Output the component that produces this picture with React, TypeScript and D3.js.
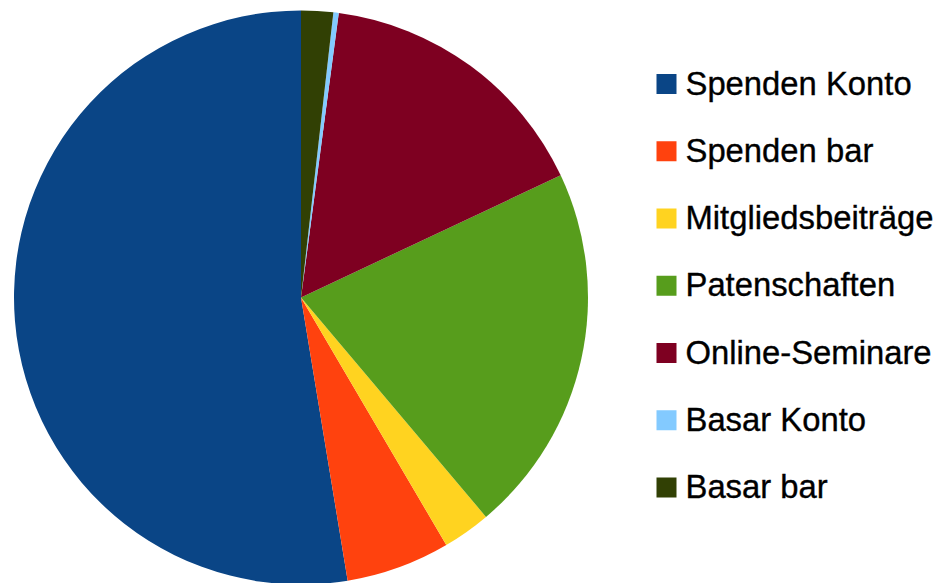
import React from "react";
import * as d3 from "d3";

const categories = [
  "Spenden Konto",
  "Spenden bar",
  "Mitgliedsbeiträge",
  "Patenschaften",
  "Online-Seminare",
  "Basar Konto",
  "Basar bar",
];
const values = [52.6, 5.85, 2.7, 20.85, 15.9, 0.3, 1.8];
const colors = ["#0a4586", "#ff420e", "#ffd320", "#579d1c", "#7e0021", "#83caff", "#314004"];

export default function App() {
  const W = 944, H = 583;
  const cx = 301, cy = 297.5, r = 287;
  const pie = d3.pie<number>().sort(null).value((d) => d).startAngle(0).endAngle(-2 * Math.PI);
  const arcs = pie(values);
  const arc = d3.arc<d3.PieArcDatum<number>>().innerRadius(0).outerRadius(r);
  const legendY = d3.scalePoint<number>().domain(d3.range(categories.length)).range([84, 487.5]);
  return (
    <svg width={W} height={H} style={{ position: "absolute", left: 0, top: 0, background: "#fff" }}>
      <g transform={`translate(${cx},${cy})`}>
        {arcs.map((a, i) => (
          <path key={i} d={arc(a) || ""} fill={colors[i]} />
        ))}
      </g>
      <g fontFamily="'Liberation Sans', Arial, sans-serif" fontSize={32.8} fill="#000" stroke="#000" strokeWidth={0.35}>
        {categories.map((c, i) => (
          <g key={c} transform={`translate(656.5,${legendY(i)})`}>
            <rect x={0} y={-10} width={20} height={20} fill={colors[i]} stroke="none" />
            <text x={29} y={10.5}>{c}</text>
          </g>
        ))}
      </g>
    </svg>
  );
}
